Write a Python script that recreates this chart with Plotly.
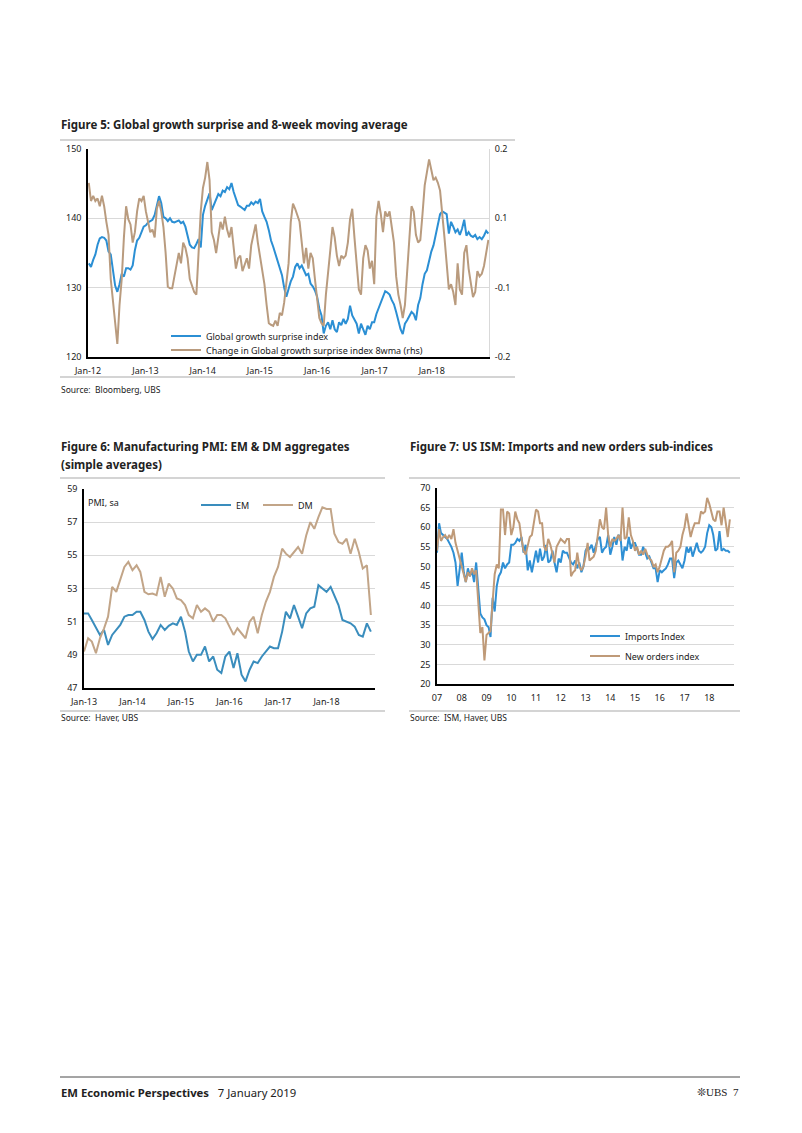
import pandas as pd
import plotly.graph_objects as go

# ---------------- Figure 5 data (bi-weekly, Jan 2012 - Dec 2018) ----------------
f5_dates = pd.date_range("2012-01-06", periods=183, freq="14D")
growth_surprise = [
    133.5, 133.0, 134.0, 134.8, 136.2, 137.1, 137.3, 137.2, 136.8, 135.2, 134.8, 132.5, 130.3,
    129.4, 130.5, 132.0, 131.6, 132.8, 132.8, 132.6, 133.2, 135.4, 136.8, 137.2, 138.0, 138.8,
    139.0, 139.4, 139.6, 139.8, 140.5, 141.8, 143.2, 142.2, 140.2, 140.0, 139.6, 140.0, 139.5,
    139.4, 139.6, 139.7, 139.3, 139.5, 138.8, 137.6, 136.2, 135.8, 135.7, 136.3, 137.0, 135.8,
    140.5, 141.8, 142.8, 143.6, 141.2, 142.0, 142.8, 143.5, 143.2, 144.0, 143.8, 144.5, 144.2,
    145.1, 143.8, 142.8, 141.9, 141.7, 141.5, 141.2, 141.8, 141.8, 142.3, 142.0, 142.4, 142.2,
    142.8, 141.0, 140.2, 139.5, 138.3, 136.8, 135.9, 134.9, 134.0, 133.0, 131.8, 130.0, 128.7,
    129.8, 130.9, 131.6, 133.0, 133.5, 132.8, 133.2, 132.5, 131.8, 132.0, 130.6, 130.2, 129.6,
    128.7, 127.0, 126.0, 123.4, 124.5, 125.0, 124.0, 125.3, 124.0, 123.6, 125.0, 124.6, 125.5,
    124.8, 125.5, 127.4, 126.0, 125.3, 124.8, 123.4, 124.8, 124.0, 123.2, 124.5, 124.0, 125.0,
    125.0, 126.2, 127.0, 127.8, 128.8, 129.5, 129.3, 129.0, 128.2, 127.6, 126.5, 125.0, 124.0,
    123.3, 124.8, 125.3, 125.8, 126.5, 126.2, 125.3, 127.5, 128.5, 130.5, 132.0, 132.5, 134.0,
    135.2, 136.1, 137.5, 139.0, 140.6, 141.0, 140.8, 140.6, 137.8, 139.5, 138.8, 138.0, 138.4,
    137.6, 138.5, 139.8, 137.5, 138.0, 137.5, 137.3, 137.6, 137.0, 137.3, 137.0, 137.5, 138.2,
    137.8,
]
growth_surprise_8wma_chg = [
    0.135, 0.100, 0.110, 0.100, 0.105, 0.090, 0.110, 0.090, 0.060, 0.035, -0.050, -0.090, -0.130,
    -0.175, -0.100, -0.050, 0.030, 0.090, 0.065, 0.055, 0.020, 0.040, 0.080, 0.105, 0.100, 0.110,
    0.080, 0.060, 0.040, 0.045, 0.030, 0.085, 0.100, 0.080, 0.050, 0.000, -0.065, -0.068, -0.068,
    -0.045, -0.020, 0.000, -0.020, 0.020, 0.010, -0.010, -0.050, -0.065, -0.075, -0.080, 0.000, 0.080,
    0.125, 0.145, 0.175, 0.140, 0.040, 0.025, 0.000, 0.030, 0.060, 0.045, 0.070, 0.045, 0.030,
    0.050, 0.010, -0.030, -0.010, -0.005, -0.035, -0.020, -0.010, -0.030, 0.015, 0.035, 0.055, 0.020,
    -0.005, -0.030, -0.060, -0.100, -0.135, -0.138, -0.140, -0.130, -0.140, -0.115, -0.120, -0.095, -0.060,
    -0.020, 0.060, 0.095, 0.085, 0.070, 0.060, 0.020, -0.020, 0.010, -0.030, 0.000, -0.010, -0.050,
    -0.090, -0.125, -0.135, -0.140, -0.080, -0.030, 0.005, 0.050, 0.030, -0.005, -0.025, -0.005, -0.010,
    -0.005, 0.020, 0.065, 0.085, 0.030, -0.030, -0.070, -0.080, -0.010, 0.015, 0.005, -0.030, -0.015,
    -0.060, 0.070, 0.100, 0.075, 0.040, 0.080, 0.070, 0.080, 0.050, 0.020, -0.045, -0.080, -0.100,
    -0.125, -0.100, -0.030, 0.040, 0.090, 0.080, 0.035, 0.020, 0.025, 0.075, 0.130, 0.155, 0.180,
    0.160, 0.140, 0.145, 0.135, 0.120, 0.080, 0.030, -0.020, -0.070, -0.060, -0.075, -0.100, -0.020,
    -0.070, -0.080, 0.000, 0.015, -0.030, -0.060, -0.085, -0.075, -0.035, -0.045, -0.040, -0.025, 0.000,
    0.025,
]
f5_ticks = ["2012-01-01", "2013-01-01", "2014-01-01", "2015-01-01", "2016-01-01", "2017-01-01", "2018-01-01"]
f5_rhs_tickvals = [-0.2, -0.0667, 0.0667, 0.2]
f5_rhs_ticktext = ["-0.2", "-0.1", "0.1", "0.2"]

# ---------------- Figure 6 data (monthly, Jan 2013 - Dec 2018) ----------------
f6_dates = pd.date_range("2013-01-01", periods=72, freq="MS")
pmi_em = [
    51.5, 51.5, 51.1, 50.6, 50.2, 50.5, 49.6, 50.2, 50.5, 50.8, 51.3, 51.4,
    51.4, 51.6, 51.6, 51.1, 50.4, 49.95, 50.3, 50.8, 50.5, 50.75, 50.9, 50.8,
    51.3, 50.4, 49.2, 48.6, 49.0, 49.0, 49.5, 48.6, 48.9, 48.1, 47.9, 48.9,
    49.2, 48.2, 49.1, 47.8, 47.4, 48.1, 48.6, 48.5, 48.9, 49.2, 49.5, 49.4,
    49.4, 50.4, 51.6, 51.2, 52.0, 51.3, 50.6, 51.5, 51.8, 51.9, 53.2, 53.0,
    52.8, 53.1, 52.6, 52.0, 51.1, 51.0, 50.9, 50.7, 50.2, 50.1, 50.9, 50.4,
]
pmi_dm = [
    49.2, 50.0, 49.8, 49.1, 50.0, 50.6, 51.3, 53.1, 52.8, 53.5, 54.3, 54.6,
    54.1, 54.4, 54.0, 52.8, 52.65, 52.7, 52.6, 53.7, 52.5, 53.3, 53.0, 52.4,
    52.3, 52.0, 51.4, 51.2, 52.0, 51.6, 51.8, 51.6, 51.0, 51.4, 51.4, 51.2,
    50.7, 50.2, 50.6, 50.3, 50.0, 51.0, 51.3, 50.3, 51.4, 52.2, 52.8, 53.7,
    54.3, 55.4, 55.1, 54.9, 55.2, 55.5, 55.1, 56.2, 57.0, 56.6, 57.3, 57.9,
    57.8, 57.8, 56.3, 55.8, 55.7, 56.0, 55.1, 56.0, 55.2, 54.2, 54.4, 51.4,
]
f6_ticks = ["2013-01-01", "2014-01-01", "2015-01-01", "2016-01-01", "2017-01-01", "2018-01-01"]

# ---------------- Figure 7 data (monthly, Jan 2007 - Nov 2018) ----------------
f7_dates = pd.date_range("2007-01-01", periods=143, freq="MS")
ism_imports = [
    53.5, 61.0, 58.5, 58.0, 57.5, 57.0, 56.0, 55.0, 53.5, 51.0, 45.0, 49.5,
    53.5, 48.5, 46.0, 49.5, 47.5, 49.0, 46.0, 51.0, 44.0, 38.0, 37.0, 36.5,
    35.0, 34.5, 32.0, 42.0, 38.5, 45.0, 47.5, 48.5, 51.0, 49.5, 50.5, 51.0,
    55.5, 55.5, 56.0, 57.0, 56.5, 57.5, 53.5, 55.5, 49.0, 51.5, 48.5, 51.0,
    54.0, 51.0, 54.5, 51.5, 52.5, 55.5, 51.0, 51.5, 54.0, 51.0, 48.5, 52.0,
    51.0, 54.0, 53.5, 53.5, 52.0, 51.0, 50.5, 51.5, 49.5, 51.0, 48.5, 50.0,
    54.0, 55.0, 54.5, 55.5, 53.5, 55.5, 57.0, 57.5, 53.5, 54.5, 55.0, 58.0,
    53.0, 55.0, 57.5, 55.5, 58.0, 57.5, 51.5, 55.0, 54.0, 57.5, 54.5, 56.0,
    56.0, 54.5, 53.0, 53.0, 55.0, 53.5, 52.0, 52.5, 51.0, 49.5, 49.5, 46.0,
    49.0, 48.5, 49.0, 49.5, 50.5, 52.0, 52.0, 47.0, 51.0, 51.5, 50.5, 49.5,
    51.5, 55.0, 53.5, 55.0, 52.5, 54.5, 56.0, 54.0, 53.5, 54.0, 55.0, 58.5,
    60.5, 60.0, 58.0, 54.0, 54.5, 59.0, 54.0, 54.5, 54.0, 54.0, 53.5,
]
ism_new_orders = [
    54.0, 59.5, 56.5, 57.5, 58.0, 57.0, 58.0, 57.0, 59.5, 56.0, 54.0, 52.0,
    50.0, 48.0, 46.0, 48.5, 47.5, 49.5, 48.0, 49.0, 42.0, 33.0, 34.5, 26.0,
    32.5, 33.0, 33.5, 41.0, 48.0, 50.5, 49.5, 64.5, 64.5, 58.0, 64.0, 63.5,
    58.0, 60.0, 64.0, 62.0, 61.0, 57.0, 54.0, 53.0, 55.5, 57.5, 58.0, 61.0,
    64.5, 64.0, 61.0, 61.0, 55.0, 54.0, 57.0, 55.5, 53.0, 51.0, 55.0, 56.0,
    57.0, 56.5, 56.0, 57.0, 57.0, 47.5, 48.5, 49.0, 53.5, 50.0, 49.0, 50.0,
    52.5, 56.0, 51.5, 52.0, 52.5, 54.0, 57.5, 62.0, 60.0, 59.5, 65.0, 58.0,
    55.0, 57.0, 56.5, 57.0, 58.0, 56.5, 65.0, 57.0, 57.5, 62.5, 58.0, 56.5,
    54.0, 55.0, 53.0, 54.0, 53.0, 54.5, 53.0, 52.0, 51.5, 50.0, 50.5, 48.5,
    50.0, 52.0, 54.0, 55.0, 55.0, 55.5, 56.5, 48.5, 53.5, 54.0, 55.0, 58.0,
    60.0, 63.5, 60.0, 57.5, 59.5, 61.0, 61.0, 61.0, 64.0, 63.5, 64.0, 67.5,
    66.0, 64.0, 62.0, 61.5, 64.0, 64.0, 60.5, 65.0, 61.0, 57.5, 62.0,
]
f7_ticks = [f"{y}-01-01" for y in range(2007, 2019)]

# ---------------- styling ----------------
# The page body keeps its default 8px margin; the figure is sized to fit inside
# the 802x1133 window and page coordinates are converted accordingly.
OFF = 8
FW, FH = 784, 1110
FONT = "Noto Sans"
BLUE5, BROWN5 = "#2b8fd4", "#b99b7e"
BLUE6, BROWN6 = "#3a8dbd", "#c2a588"
BLUE7, BROWN7 = "#2e8fd4", "#bf9a78"
GRID = "#d9d9d9"
TXT = "#222222"


def px(x):
    return (x - OFF) / FW


def py(y):
    return 1 - (y - OFF) / FH


fig = go.Figure()

fig.add_trace(go.Scatter(x=f5_dates, y=growth_surprise, name="Global growth surprise index",
                         mode="lines", line=dict(color=BLUE5, width=2), xaxis="x", yaxis="y",
                         legend="legend"))
fig.add_trace(go.Scatter(x=f5_dates, y=growth_surprise_8wma_chg,
                         name="Change in Global growth surprise index 8wma (rhs)",
                         mode="lines", line=dict(color=BROWN5, width=2), xaxis="x", yaxis="y2",
                         legend="legend2"))
fig.add_trace(go.Scatter(x=f6_dates, y=pmi_em, name="EM", mode="lines",
                         line=dict(color=BLUE6, width=2), xaxis="x2", yaxis="y3", legend="legend3"))
fig.add_trace(go.Scatter(x=f6_dates, y=pmi_dm, name="DM", mode="lines",
                         line=dict(color=BROWN6, width=2), xaxis="x2", yaxis="y3", legend="legend4"))
fig.add_trace(go.Scatter(x=f7_dates, y=ism_imports, name="Imports Index", mode="lines",
                         line=dict(color=BLUE7, width=2), xaxis="x3", yaxis="y4", legend="legend5"))
fig.add_trace(go.Scatter(x=f7_dates, y=ism_new_orders, name="New orders index", mode="lines",
                         line=dict(color=BROWN7, width=2), xaxis="x3", yaxis="y4", legend="legend6"))

tickfont = dict(family=FONT, size=9, color=TXT)
xcommon = dict(showline=True, linecolor="black", linewidth=1.5, showgrid=False, zeroline=False,
               ticks="", tickfont=tickfont, type="date", ticklabelstandoff=4)
ycommon = dict(showline=True, linecolor="black", linewidth=1.5, showgrid=True, gridcolor=GRID,
               gridwidth=1, zeroline=False, ticks="", tickfont=tickfont, ticklabelstandoff=3)

legfont = dict(family=FONT, size=9, color=TXT)


def leg(x, y):
    return dict(x=px(x), y=py(y), xanchor="left", yanchor="middle", bgcolor="rgba(0,0,0,0)",
                font=legfont, itemwidth=30, orientation="v", borderwidth=0)


fig.update_layout(
    width=FW, height=FH, margin=dict(l=0, r=0, t=0, b=0, autoexpand=False),
    paper_bgcolor="white", plot_bgcolor="white", showlegend=True,
    font=dict(family=FONT, color=TXT),
    xaxis=dict(xcommon, domain=[px(88), px(489)], anchor="y",
               range=["2012-01-01", "2019-01-01"], tickvals=f5_ticks, tickformat="%b-%y"),
    yaxis=dict(ycommon, domain=[py(357), py(149)], anchor="x", range=[120, 150], dtick=10),
    yaxis2=dict(overlaying="y", side="right", anchor="x", range=[-0.2, 0.2],
                tickvals=f5_rhs_tickvals, ticktext=f5_rhs_ticktext, showgrid=False,
                showline=True, linecolor=GRID, linewidth=1, zeroline=False, ticks="",
                tickfont=tickfont, ticklabelstandoff=3),
    xaxis2=dict(xcommon, domain=[px(84), px(375)], anchor="y3",
                range=["2013-01-01", "2019-01-01"], tickvals=f6_ticks, tickformat="%b-%y"),
    yaxis3=dict(ycommon, domain=[py(688), py(489)], anchor="x2", range=[47, 59], dtick=2, tick0=47),
    xaxis3=dict(xcommon, domain=[px(437), px(734)], anchor="y4",
                range=["2007-01-01", "2019-01-01"], tickvals=f7_ticks, tickformat="%y"),
    yaxis4=dict(ycommon, domain=[py(684), py(488)], anchor="x3", range=[20, 70], dtick=5),
    legend=leg(166, 336),
    legend2=leg(166, 350),
    legend3=leg(196, 505),
    legend4=leg(258, 505),
    legend5=leg(585, 636),
    legend6=leg(585, 656),
)

shapes = []


def hrule(x0, x1, y, color="#d4d4d4", width=2):
    shapes.append(dict(type="line", xref="paper", yref="paper", x0=px(x0), x1=px(x1),
                       y0=py(y), y1=py(y), line=dict(color=color, width=width)))


hrule(60, 515, 140)
hrule(60, 515, 377)
hrule(60, 385, 478)
hrule(60, 385, 711)
hrule(409, 740, 478)
hrule(409, 740, 711)
hrule(60, 740, 1077, color="#4a4a4a", width=1)
fig.update_layout(shapes=shapes)

annots = []


def text(x, y, s, size=9, bold=False, anchor="left", family=FONT, color=TXT):
    annots.append(dict(xref="paper", yref="paper", x=px(x), y=py(y), xanchor=anchor,
                       yanchor="middle", showarrow=False, align="left",
                       text=f"<b>{s}</b>" if bold else s,
                       font=dict(family=family, size=size, color=color)))


text(59, 124, "Figure 5: Global growth surprise and 8-week moving average", size=11.5, bold=True)
text(59, 389, "Source:  Bloomberg, UBS", size=8.5)
text(59, 447, "Figure 6: Manufacturing PMI: EM &amp; DM aggregates", size=11.5, bold=True)
text(59, 464, "(simple averages)", size=11.5, bold=True)
text(86, 502, "PMI, sa", size=9)
text(59, 717, "Source:  Haver, UBS", size=8.5)
text(408, 447, "Figure 7: US ISM: Imports and new orders sub-indices", size=11.5, bold=True)
text(408, 717, "Source:  ISM, Haver, UBS", size=8.5)
text(59, 1092, "<b>EM Economic Perspectives</b>   7 January 2019", size=11.3)
text(741, 1092, "❊UBS  7", size=11, anchor="right", family="Liberation Serif")
fig.update_layout(annotations=annots)

fig.write_html("out.html", config={"displayModeBar": False})
